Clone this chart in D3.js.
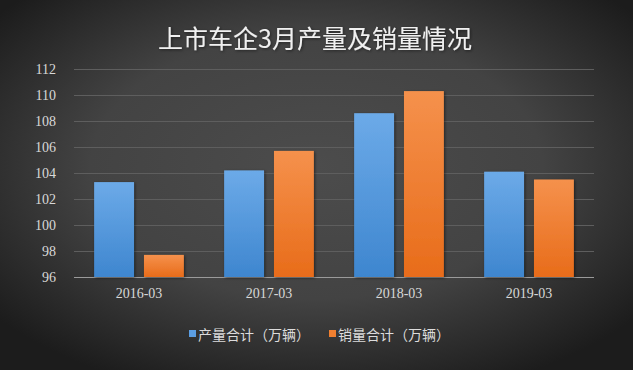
<!DOCTYPE html>
<html>
<head>
<meta charset="utf-8">
<script src="https://cdn.jsdelivr.net/npm/d3@7"></script>
<style>
  body { margin: 0; background: #2a2a2a; }
  svg { display: block; }
</style>
</head>
<body>
<div id="chart"></div>
<script>
const title = "上市车企3月产量及销量情况";
const months = ["2016-03", "2017-03", "2018-03", "2019-03"];
const seriesNames = ["产量合计（万辆）", "销量合计（万辆）"];
const production = [103.3, 104.2, 108.6, 104.1];
const sales = [97.7, 105.7, 110.3, 103.5];
const yTicks = [96, 98, 100, 102, 104, 106, 108, 110, 112];

const W = 633, H = 370;
const margin = {top: 69, right: 39, bottom: 93, left: 74};
const width = W - margin.left - margin.right;
const height = H - margin.top - margin.bottom;

const svg = d3.select("#chart").append("svg")
    .attr("width", W)
    .attr("height", H);

const defs = svg.append("defs");

// background
const bg = defs.append("radialGradient")
    .attr("id", "bg")
    .attr("cx", "50%").attr("cy", "45%")
    .attr("r", "65%");
bg.append("stop").attr("offset", "0%").attr("stop-color", "#4c4c4c");
bg.append("stop").attr("offset", "55%").attr("stop-color", "#434343");
bg.append("stop").attr("offset", "100%").attr("stop-color", "#1c1c1c");

const barGrad = (id, top, bottom) => {
    const g = defs.append("linearGradient")
        .attr("id", id)
        .attr("x1", 0).attr("y1", 0).attr("x2", 0).attr("y2", 1);
    g.append("stop").attr("offset", "0%").attr("stop-color", top);
    g.append("stop").attr("offset", "100%").attr("stop-color", bottom);
};
barGrad("blue", "#6caae8", "#3e86cf");
barGrad("orange", "#f5914c", "#e86c1a");

const shadow = defs.append("filter").attr("id", "shadow")
    .attr("x", "-20%").attr("y", "-20%").attr("width", "140%").attr("height", "140%");
shadow.append("feDropShadow")
    .attr("dx", 1).attr("dy", 1).attr("stdDeviation", 1.5)
    .attr("flood-color", "#000").attr("flood-opacity", 0.5);

svg.append("rect")
    .attr("width", W).attr("height", H)
    .attr("fill", "url(#bg)");

// title
svg.append("text")
    .attr("x", 315)
    .attr("y", 37)
    .attr("text-anchor", "middle")
    .attr("dominant-baseline", "central")
    .attr("fill", "#f0f0f0")
    .style("font-family", "'Noto Sans CJK SC', sans-serif")
    .style("font-size", "25px")
    .style("font-weight", "400")
    .style("filter", "url(#shadow)")
    .text(title);

const g = svg.append("g")
    .attr("transform", "translate(" + margin.left + "," + margin.top + ")");

// scales
const x0 = d3.scaleBand()
    .domain(months)
    .range([0, width])
    .paddingInner(0.31)
    .paddingOuter(0.155);

const x1 = d3.scaleBand()
    .domain([0, 1])
    .range([0, x0.bandwidth()])
    .paddingInner(0.2);

const y = d3.scaleLinear()
    .domain([96, 112])
    .range([height, 0]);

// grid
g.append("g")
    .call(d3.axisLeft(y).tickValues(yTicks).tickSize(-width).tickFormat(""))
    .call(a => a.select(".domain").remove())
    .selectAll("line")
    .attr("stroke", d => d === 96 ? "#9a9a9a" : "#5e5e5e")
    .attr("stroke-width", 1);

// y labels
g.append("g")
    .call(d3.axisLeft(y).tickValues(yTicks).tickSize(0).tickPadding(18))
    .call(a => a.select(".domain").remove())
    .selectAll("text")
    .attr("fill", "#d8d8d8")
    .style("font-family", "'Liberation Serif', serif")
    .style("font-size", "14px");

// x labels
g.append("g")
    .attr("transform", "translate(0," + height + ")")
    .call(d3.axisBottom(x0).tickSize(0).tickPadding(11))
    .call(a => a.select(".domain").remove())
    .selectAll("text")
    .attr("fill", "#d8d8d8")
    .style("font-family", "'Liberation Serif', serif")
    .style("font-size", "14px");

// bars
const rows = months.map((m, i) => ({month: m, vals: [production[i], sales[i]]}));
const fills = ["url(#blue)", "url(#orange)"];

g.selectAll(".grp")
    .data(rows)
    .enter()
    .append("g")
    .attr("transform", d => "translate(" + x0(d.month) + ",0)")
    .selectAll("rect")
    .data(d => d.vals.map((v, k) => ({k: k, v: v})))
    .enter()
    .append("rect")
    .attr("x", d => x1(d.k))
    .attr("y", d => y(d.v))
    .attr("width", x1.bandwidth())
    .attr("height", d => y(96) - y(d.v))
    .attr("fill", d => fills[d.k])
    .style("filter", "url(#shadow)");

// legend
const legendColors = ["#5b9ee3", "#ef7f30"];
const legendX = [189, 329];
const legend = svg.append("g");
seriesNames.forEach((name, k) => {
    legend.append("rect")
        .attr("x", legendX[k])
        .attr("y", 330)
        .attr("width", 7)
        .attr("height", 7)
        .attr("fill", legendColors[k]);
    legend.append("text")
        .attr("x", legendX[k] + 9)
        .attr("y", 333.5)
        .attr("dominant-baseline", "central")
        .attr("fill", "#dcdcdc")
        .style("font-family", "'Noto Sans CJK SC', sans-serif")
        .style("font-size", "14px")
        .text(name);
});
</script>
</body>
</html>
